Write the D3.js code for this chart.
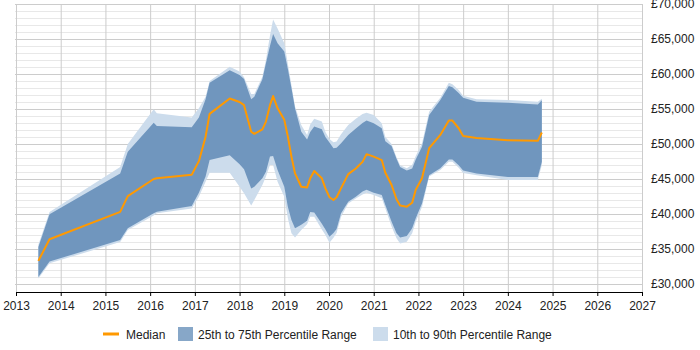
<!DOCTYPE html>
<html>
<head>
<meta charset="utf-8">
<script src="https://cdn.jsdelivr.net/npm/d3@7"></script>
<style>
  body { margin: 0; background: #fff; }
  text { font-family: "Liberation Sans", Arial, sans-serif; }
</style>
</head>
<body>
<div id="chart"></div>
<script>
// decimal years of each sample
const dates = [2013.5, 2013.75, 2015.33, 2015.5, 2016.08, 2016.15, 2016.93, 2017.09, 2017.24, 2017.33,
  2017.78, 2018.0, 2018.1, 2018.26, 2018.33, 2018.51, 2018.59, 2018.68, 2018.75, 2018.85,
  2019.0, 2019.08, 2019.16, 2019.24, 2019.38, 2019.51, 2019.58, 2019.67, 2019.84, 2019.92,
  2020.01, 2020.1, 2020.17, 2020.27, 2020.43, 2020.6, 2020.75, 2020.84, 2021.0, 2021.18,
  2021.26, 2021.4, 2021.51, 2021.59, 2021.74, 2021.86, 2021.94, 2022.08, 2022.24, 2022.49,
  2022.68, 2022.76, 2022.9, 2023.0, 2023.3, 2024.0, 2024.67, 2024.76];

const p10 = [30800, 32950, 36000, 37700, 39800, 40100, 40800, 42450, 44600, 45900,
  45900, 43900, 42950, 41200, 42000, 44150, 45350, 47000, 47000, 44600,
  42450, 39400, 37250, 36650, 37700, 38550, 39600, 39600, 37800, 37000,
  35900, 36600, 37300, 39600, 41500, 42200, 42800, 43050, 42700, 42250,
  40800, 38200, 36550, 35800, 36050, 37250, 38900, 41000, 45350, 46300,
  47450, 47450, 46600, 45850, 45550, 44850, 44850, 47000];

const p25 = [31000, 33200, 36300, 37950, 40100, 40330, 41150, 43050, 45350, 47700,
  48400, 47100, 46400, 43650, 43900, 45100, 46050, 48200, 48300, 46300,
  43900, 41050, 39150, 37950, 38450, 39050, 40300, 40200, 38600, 37800,
  36750, 37300, 37850, 40100, 41750, 42450, 43200, 43450, 43050, 42700,
  41300, 38900, 37250, 36650, 36850, 37950, 39400, 41500, 45550, 46550,
  47800, 47800, 46950, 46200, 45800, 45300, 45300, 47450];

const median = [33300, 36400, 40300, 42550, 45000, 45100, 45600, 47550, 51050, 54300,
  56500, 56000, 55550, 51750, 51450, 52100, 53200, 55550, 56850, 55100,
  53450, 51050, 48200, 45800, 43900, 43800, 45100, 46150, 45100, 43650,
  42400, 42000, 42400, 43700, 45700, 46500, 47450, 48550, 48200, 47700,
  45900, 44150, 42100, 41200, 41050, 41600, 43450, 45100, 49400, 51300,
  53350, 53350, 52250, 51150, 50850, 50550, 50450, 51650];

const p75 = [35300, 39950, 45800, 48900, 53040, 52570, 52380, 53800, 56400, 58750,
  60550, 59850, 59300, 56400, 56750, 59250, 61550, 64000, 65700, 64400,
  63200, 60700, 58000, 55100, 51750, 50650, 51700, 52500, 52100, 51000,
  50200, 49400, 49450, 50100, 51300, 52200, 53000, 53350, 52950, 52250,
  50400, 49700, 47900, 46700, 46200, 46500, 47800, 49600, 54150, 56300,
  58300, 58100, 57300, 56600, 56050, 55900, 55650, 56250];

const p90 = [35600, 40300, 46700, 50000, 54950, 54380, 53800, 55100, 56750, 59000,
  61050, 60350, 59550, 57150, 57150, 59600, 62000, 65500, 67800, 66500,
  64400, 61450, 58400, 55350, 52700, 51300, 52800, 53600, 53200, 51700,
  50700, 50250, 50350, 51400, 52700, 53600, 54300, 54470, 54150, 52950,
  51000, 50000, 48100, 46950, 46550, 47050, 48300, 50100, 54600, 56600,
  58750, 58550, 57700, 56900, 56400, 56300, 56050, 56450];

const yearTicks = d3.range(2013, 2028);
const salaryTicks = d3.range(30000, 70001, 5000);
const legendItems = ["Median", "25th to 75th Percentile Range", "10th to 90th Percentile Range"];

const width = 700, height = 350;
const plotLeft = 16, plotRight = 642, plotTop = 4, axisY = 292;

const svg = d3.select("#chart").append("svg")
  .attr("width", width)
  .attr("height", height);

const x = d3.scaleLinear().domain([2013, 2027]).range([plotLeft, plotRight]);
const y = d3.scaleLinear().domain([30000, 70000]).range([284, plotTop]);

// minor gridlines every 1000
svg.append("g")
  .selectAll("line")
  .data(d3.range(30000, 70001, 1000).filter(v => v % 5000 !== 0))
  .enter().append("line")
  .attr("x1", plotLeft - 1).attr("x2", plotRight)
  .attr("y1", d => y(d) + 0.5).attr("y2", d => y(d) + 0.5)
  .attr("stroke", "#e8e8e8");

// major gridlines
svg.append("g")
  .selectAll("line")
  .data(salaryTicks)
  .enter().append("line")
  .attr("x1", plotLeft - 1).attr("x2", plotRight)
  .attr("y1", d => y(d) + 0.5).attr("y2", d => y(d) + 0.5)
  .attr("stroke", "#cccccc");

// vertical gridlines
svg.append("g")
  .selectAll("line")
  .data(yearTicks)
  .enter().append("line")
  .attr("x1", d => x(d) + 0.5).attr("x2", d => x(d) + 0.5)
  .attr("y1", plotTop).attr("y2", axisY)
  .attr("stroke", "#cccccc");

// top border
svg.append("line")
  .attr("x1", plotLeft).attr("x2", plotRight)
  .attr("y1", plotTop + 0.5).attr("y2", plotTop + 0.5)
  .attr("stroke", "#cccccc");

const rows = dates.map((d, i) => ({ d, p10: p10[i], p25: p25[i], m: median[i], p75: p75[i], p90: p90[i] }));

const outer = d3.area().x(r => x(r.d)).y0(r => y(r.p10)).y1(r => y(r.p90));
const inner = d3.area().x(r => x(r.d)).y0(r => y(r.p25)).y1(r => y(r.p75));
const line = d3.line().x(r => x(r.d)).y(r => y(r.m));

svg.append("path").datum(rows)
  .attr("d", outer)
  .attr("fill", "#ccdcec");

svg.append("path").datum(rows)
  .attr("d", inner)
  .attr("fill", "#7096be");

svg.append("path").datum(rows)
  .attr("d", line)
  .attr("fill", "none")
  .attr("stroke", "#ff9900")
  .attr("stroke-width", 2)
  .attr("stroke-linejoin", "round");

// x axis
const xAxis = svg.append("g")
  .attr("transform", `translate(0,${axisY})`)
  .call(d3.axisBottom(x).tickValues(yearTicks).tickFormat(d3.format("d")).tickSize(4));
xAxis.select(".domain").attr("stroke", "#000");
xAxis.selectAll(".tick line").attr("stroke", "#000");
xAxis.selectAll("text").attr("font-size", 12).attr("fill", "#222").attr("dy", "0.9em")
  .attr("font-family", "Liberation Sans, Arial, sans-serif");

// y axis on the right
const yAxis = svg.append("g")
  .attr("transform", `translate(${plotRight},0)`)
  .call(d3.axisRight(y).tickValues(salaryTicks).tickFormat(d => "£" + d3.format(",")(d)).tickSize(0).tickPadding(9));
yAxis.select(".domain").attr("stroke", "#cccccc");
yAxis.selectAll("text").attr("font-size", 12).attr("fill", "#222")
  .attr("font-family", "Liberation Sans, Arial, sans-serif");

// legend
const legend = svg.append("g").attr("transform", "translate(0,334)");
legend.append("line")
  .attr("x1", 103).attr("x2", 119).attr("y1", 0).attr("y2", 0)
  .attr("stroke", "#ff9900").attr("stroke-width", 3);
legend.append("text").attr("x", 126).attr("y", 4.5).attr("font-size", 12).attr("fill", "#222").text(legendItems[0]);
legend.append("rect").attr("x", 178).attr("y", -7).attr("width", 15).attr("height", 14).attr("fill", "#87a7c8");
legend.append("text").attr("x", 198).attr("y", 4.5).attr("font-size", 12).attr("fill", "#222").text(legendItems[1]);
legend.append("rect").attr("x", 373).attr("y", -7).attr("width", 15).attr("height", 14).attr("fill", "#ccdcec");
legend.append("text").attr("x", 393).attr("y", 4.5).attr("font-size", 12).attr("fill", "#222").text(legendItems[2]);
</script>
</body>
</html>
